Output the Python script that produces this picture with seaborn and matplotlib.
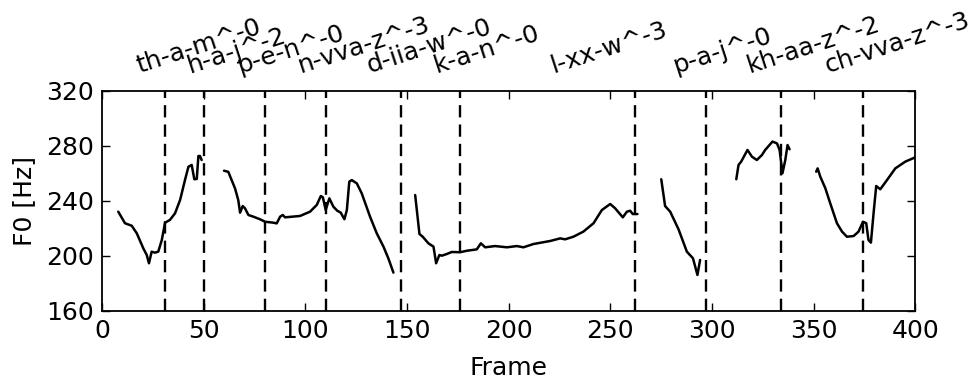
import numpy as np
import pandas as pd
import matplotlib
matplotlib.use("Agg")
import matplotlib.pyplot as plt
import matplotlib.transforms as mtransforms
import seaborn as sns

# Syllable boundaries (frames) and their labels
boundaries = [31, 50, 80, 110, 147, 176, 262, 297, 334, 374]
syllables = ["th-a-m^-0", "h-a-j^-2", "p-e-n^-0", "n-vva-z^-3", "d-iia-w^-0",
             "k-a-n^-0", "l-xx-w^-3", "p-a-j^-0", "kh-aa-z^-2", "ch-vva-z^-3"]

# Voiced F0 segments (frame, Hz)
seg1_frame = [8.0, 11.3, 14.6, 17.1, 20.3, 22.0, 23.1, 24.4, 26.1, 27.7, 29.4, 31.0,
              33.4, 35.9, 38.4, 40.8, 42.5, 44.1, 45.4, 46.6, 47.4, 48.2, 49.0]
seg1_f0 = [232.0, 223.6, 221.8, 216.3, 205.4, 200.5, 194.5, 202.9, 202.2, 203.0, 211.4, 224.0,
           226.0, 230.8, 240.5, 255.0, 264.7, 266.0, 255.6, 255.8, 272.5, 272.5, 269.6]

seg2_frame = [60.0, 62.1, 65.4, 67.0, 67.9, 69.2, 70.3, 72.0, 74.4, 77.7, 80.2, 84.3,
              85.9, 87.6, 88.9, 90.0, 97.4, 102.3, 105.6, 107.6, 108.6, 110.0, 111.8,
              113.8, 115.7, 117.4, 119.2, 120.4, 121.6, 122.8, 125.3, 127.7, 131.8,
              135.1, 138.4, 140.8, 143.3]
seg2_f0 = [261.8, 261.0, 249.0, 240.5, 231.3, 236.1, 234.5, 229.6, 228.4, 226.5, 224.7, 224.0,
           223.5, 228.4, 229.6, 227.9, 228.9, 232.0, 236.9, 243.4, 242.5, 233.3, 241.7,
           235.6, 232.7, 231.3, 226.5, 233.2, 253.8, 255.0, 252.6, 245.4, 228.4,
           216.3, 206.6, 198.1, 187.7]

seg3_frame = [154.0, 156.1, 157.7, 160.5, 163.0, 164.3, 165.9, 167.1, 169.5, 172.0, 176.1,
              179.4, 184.3, 186.3, 188.4, 193.3, 199.1, 204.0, 207.2, 212.2, 220.4,
              225.3, 227.7, 231.8, 236.7, 241.7, 245.8, 249.9, 252.3, 256.1, 258.1,
              259.7, 261.0, 263.3]
seg3_f0 = [244.1, 215.8, 213.8, 209.0, 206.6, 194.5, 200.5, 200.0, 201.2, 202.7, 202.5,
           203.6, 204.6, 209.0, 206.1, 207.0, 206.1, 207.0, 206.1, 208.5, 210.7,
           212.6, 211.9, 213.8, 217.5, 223.6, 233.2, 237.6, 234.5, 227.9, 232.0,
           232.7, 230.3, 230.3]

seg4_frame = [275.0, 276.9, 279.4, 283.5, 287.6, 290.6, 292.8, 294.1]
seg4_f0 = [255.6, 236.1, 232.0, 219.2, 202.9, 198.1, 186.0, 196.9]

seg5_frame = [311.9, 313.0, 314.3, 317.4, 319.6, 322.0, 324.5, 326.1, 329.7, 331.9,
              333.2, 334.6, 336.0, 337.1, 338.1]
seg5_f0 = [255.6, 266.0, 268.4, 276.9, 272.0, 269.6, 273.2, 276.9, 283.0, 281.7,
           276.9, 259.9, 269.6, 280.5, 277.4]

seg6_frame = [351.2, 351.9, 353.2, 355.7, 358.1, 361.4, 363.9, 366.3, 369.6, 372.0,
              374.2, 375.8, 376.9, 378.1, 379.4, 380.7, 382.7, 386.0, 390.1, 395.0, 400.0]
seg6_f0 = [261.1, 263.5, 257.5, 249.0, 238.1, 223.6, 217.5, 213.8, 214.3, 217.5,
           224.7, 223.6, 211.4, 209.5, 230.8, 250.7, 248.3, 255.0, 263.5, 268.4, 271.6]

segments = [(seg1_frame, seg1_f0), (seg2_frame, seg2_f0), (seg3_frame, seg3_f0),
            (seg4_frame, seg4_f0), (seg5_frame, seg5_f0), (seg6_frame, seg6_f0)]
df = pd.concat(
    [pd.DataFrame({"frame": fr, "f0": hz, "segment": i}) for i, (fr, hz) in enumerate(segments)],
    ignore_index=True,
)

sns.set_style("ticks")
plt.rcParams["font.family"] = ["DejaVu Sans"]
plt.rcParams.update({
    "xtick.direction": "in", "ytick.direction": "in",
    "xtick.top": True, "ytick.right": True,
    "axes.edgecolor": "black", "axes.linewidth": 1.3,
    "axes.labelcolor": "black", "text.color": "black",
    "xtick.major.size": 6, "ytick.major.size": 6,
    "xtick.major.width": 1.0, "ytick.major.width": 1.0,
    "xtick.color": "black", "ytick.color": "black",
})

FS = 18

fig = plt.figure(figsize=(9.77, 3.80), dpi=100)
ax = fig.add_axes([0.1044, 0.1824, 0.8326, 0.5789])

sns.lineplot(data=df, x="frame", y="f0", units="segment", estimator=None,
             color="black", linewidth=1.8, ax=ax, legend=False)

for b in boundaries:
    ax.axvline(b, color="black", linewidth=1.7, linestyle=(0, (5.2, 3.0)))

# syllable names written from the middle of each syllable
starts = [0] + boundaries[:-1]
mids = [(s + e) / 2 for s, e in zip(starts, boundaries)]
trans = mtransforms.blended_transform_factory(ax.transData, ax.transAxes)
for m, lab in zip(mids, syllables):
    ax.text(m, 1.06, lab, transform=trans, rotation=18,
            ha="left", va="bottom", fontsize=FS, color="black")

ax.set_xlim(0, 400)
ax.set_ylim(160, 320)
ax.set_xticks([0, 50, 100, 150, 200, 250, 300, 350, 400])
ax.set_yticks([160, 200, 240, 280, 320])
ax.tick_params(labelsize=FS, pad=6)
ax.set_xlabel("Frame", fontsize=FS, labelpad=9)
ax.set_ylabel("F0 [Hz]", fontsize=FS, labelpad=7)

fig.savefig("out.png", dpi=100)
